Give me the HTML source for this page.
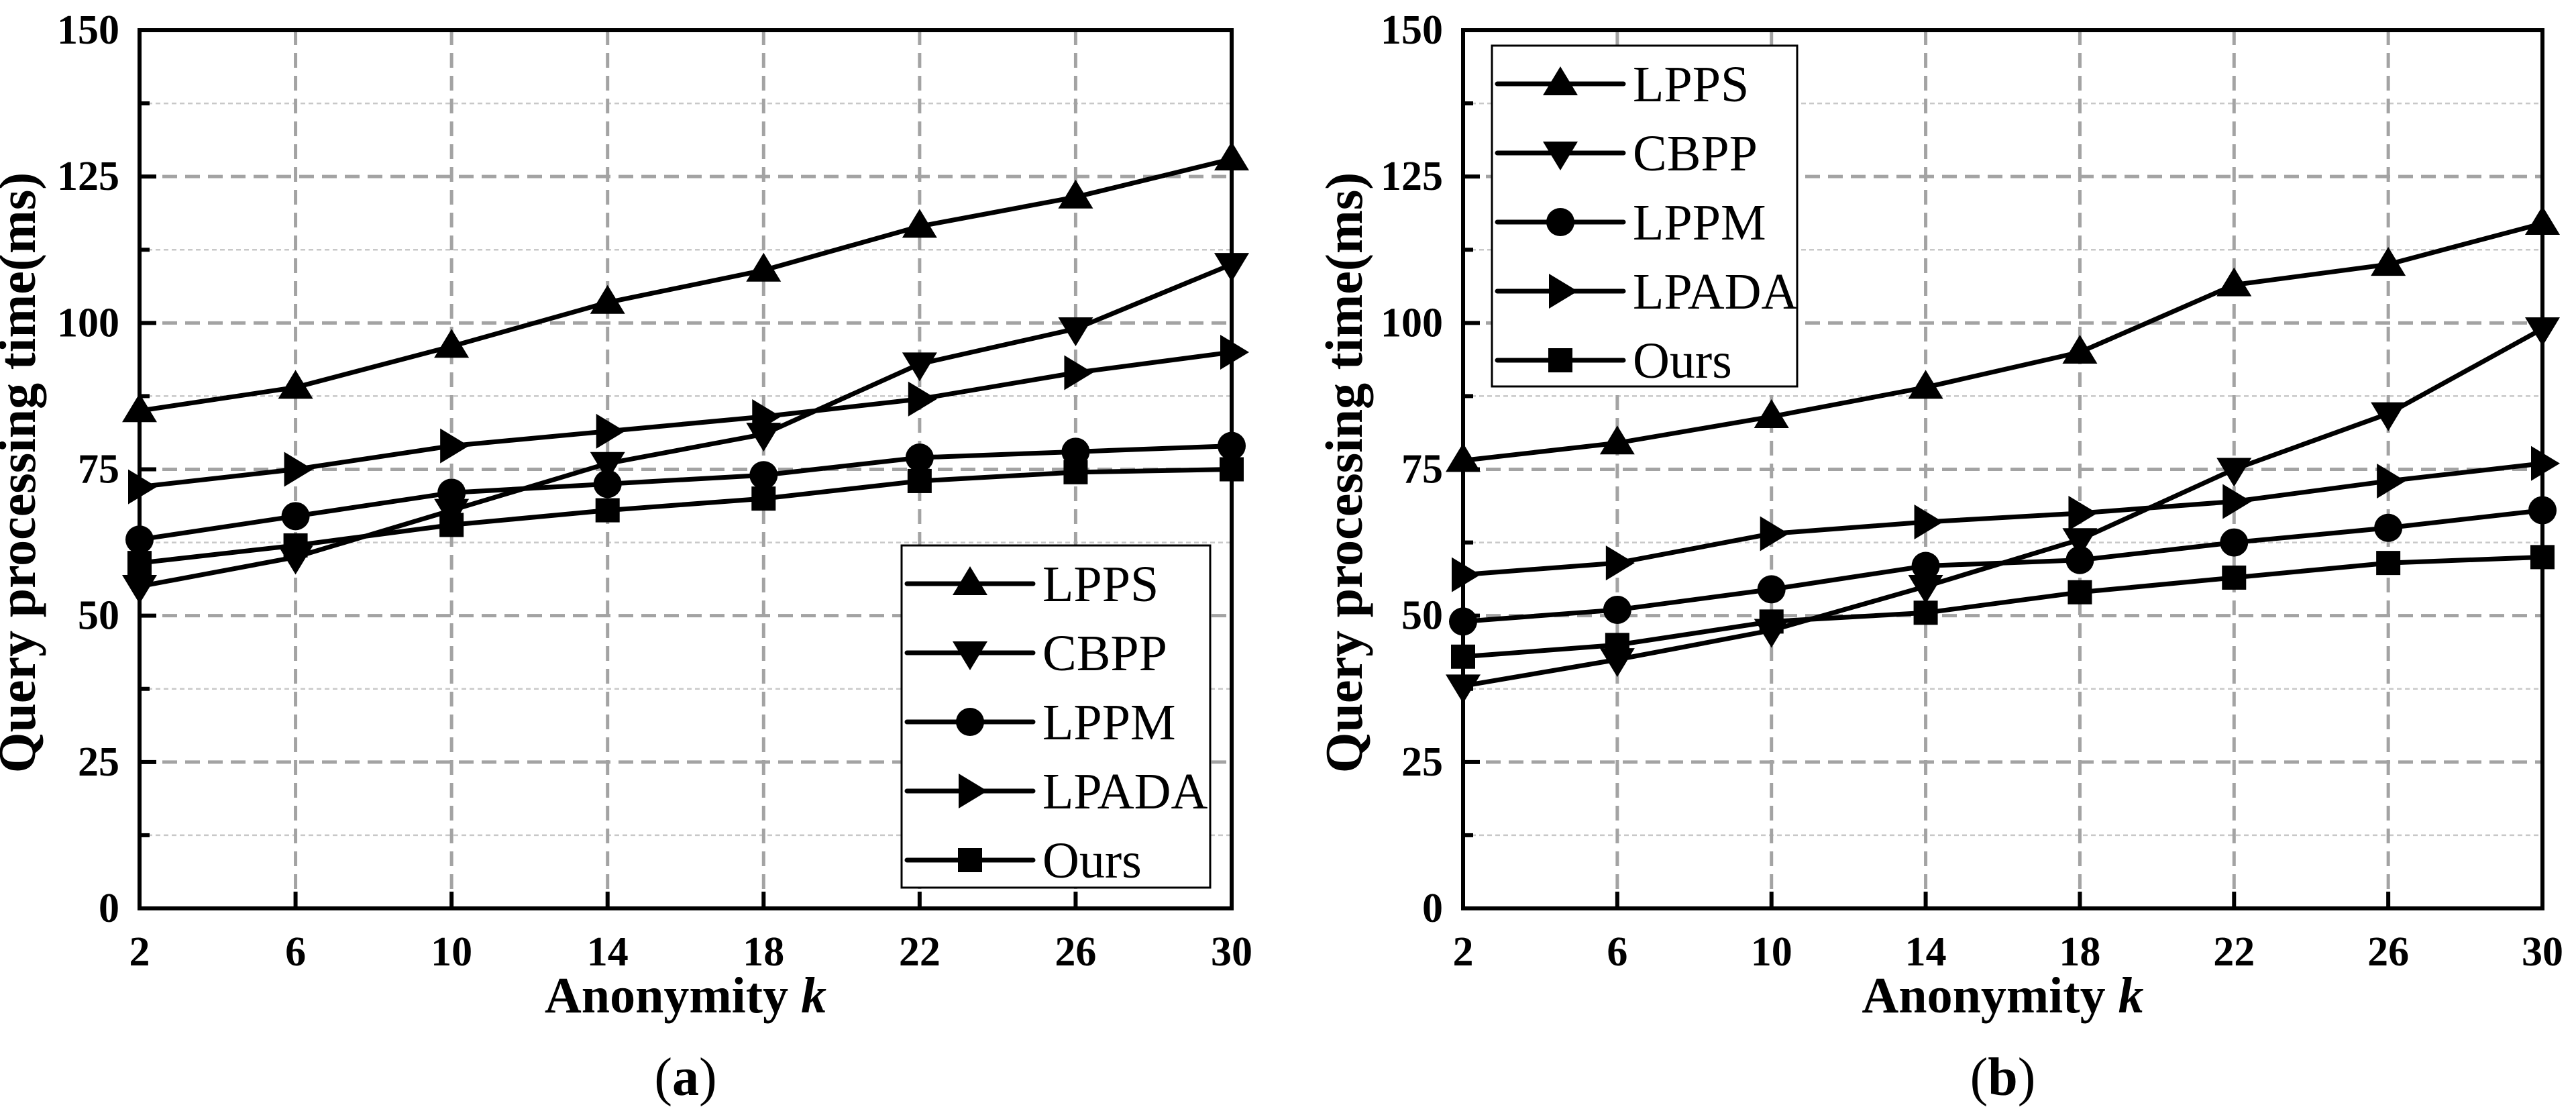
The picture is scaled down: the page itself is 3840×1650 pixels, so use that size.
<!DOCTYPE html>
<html><head><meta charset="utf-8"><style>
html,body{margin:0;padding:0;background:#fff;}
svg{display:block;}
svg text{font-family:"Liberation Serif","DejaVu Serif",serif;fill:#000;}
</style></head><body>
<svg id="fig" width="3840" height="1650" viewBox="0 0 3840 1650" xmlns="http://www.w3.org/2000/svg" font-family="'Liberation Serif', 'DejaVu Serif', serif"></svg>
<script>
const kValues=[2,6,10,14,18,22,26,30];
const yTicks=[0,25,50,75,100,125,150];
const seriesNames=["LPPS","CBPP","LPPM","LPADA","Ours"];
const markerTypes=["up","down","circle","right","square"];
const aLPPS=[85,89,96,103.5,109,116.5,121.5,128];
const aCBPP=[55,60,68,76,81,93,99,110];
const aLPPM=[63,67,71,72.5,74,77,78,79];
const aLPADA=[72,75,79,81.5,84,87,91.5,95];
const aOurs=[59,62,65.5,68,70,73,74.5,75];
const bLPPS=[76.5,79.5,84,89,95,106.5,110,117];
const bCBPP=[38,42.5,47.5,55,63,75,84.5,99];
const bLPPM=[49,51,54.5,58.5,59.5,62.5,65,68];
const bLPADA=[57,59,64,66,67.5,69.5,73,76];
const bOurs=[43,45,49,50.5,54,56.5,59,60];

const NS="http://www.w3.org/2000/svg";
const FONT="'Liberation Serif', 'DejaVu Serif', serif";
const svg=document.getElementById('fig');
function mk(tag,attrs,parent){const e=document.createElementNS(NS,tag);for(const k in attrs)e.setAttribute(k,attrs[k]);if(tag==='text')e.setAttribute('font-family',FONT);(parent||svg).appendChild(e);return e;}

function marker(g,type,cx,cy){
  let e;
  if(type==="up") e=mk('polygon',{points:`${cx},${cy-26} ${cx-26},${cy+17} ${cx+26},${cy+17}`,fill:'#000'},g);
  else if(type==="down") e=mk('polygon',{points:`${cx},${cy+26} ${cx-26},${cy-17} ${cx+26},${cy-17}`,fill:'#000'},g);
  else if(type==="right") e=mk('polygon',{points:`${cx+26},${cy} ${cx-17},${cy-26} ${cx-17},${cy+26}`,fill:'#000'},g);
  else if(type==="circle") e=mk('circle',{cx:cx,cy:cy,r:21,fill:'#000'},g);
  else e=mk('rect',{x:cx-18,y:cy-18,width:36,height:36,fill:'#000'},g);
  return e;
}

function panel(id,L,R,T,B,data,legend,titleX,caption){
  const g=mk('g',{});
  
  
  const xs=k=>L+(k-kValues[0])/(kValues[kValues.length-1]-kValues[0])*(R-L);
  const ys=v=>B-(v-0)/150*(B-T);
  for(let v=12.5;v<150;v+=25){
    const l=mk('line',{x1:L,x2:R,y1:ys(v),y2:ys(v),stroke:'#c8c8c8','stroke-width':2.5,'stroke-dasharray':'7 5'},g);
    
    
  }
  yTicks.forEach(v=>{
    if(v>0&&v<150){
      const l=mk('line',{x1:L,x2:R,y1:ys(v),y2:ys(v),stroke:'#a3a3a3','stroke-width':5,'stroke-dasharray':'22 12'},g);
      
      
    }
  });
  kValues.forEach((k,i)=>{
    if(i>0&&i<kValues.length-1){
      const l=mk('line',{x1:xs(k),x2:xs(k),y1:T,y2:B,stroke:'#a3a3a3','stroke-width':5,'stroke-dasharray':'22 12'},g);
      
      
    }
  });
  data.forEach((vals,si)=>{
    const sg=mk('g',{},g);
    
    
    const pts=vals.map((v,i)=>xs(kValues[i])+','+ys(v)).join(' ');
    const pl=mk('polyline',{points:pts,fill:'none',stroke:'#000','stroke-width':7,'stroke-linejoin':'round'},sg);
    
    
    vals.forEach((v,i)=>{
      const m=marker(sg,markerTypes[si],xs(kValues[i]),ys(v));
      
      
    });
  });
  const box=mk('rect',{x:L,y:T,width:R-L,height:B-T,fill:'none',stroke:'#000','stroke-width':6},g);
  
  
  for(let v=0;v<=150;v+=12.5){
    const len=(v%25===0)?25:15;
    const t=mk('line',{x1:L,x2:L+len,y1:ys(v),y2:ys(v),stroke:'#000','stroke-width':6},g);
    
    
  }
  kValues.forEach(k=>{
    const t=mk('line',{x1:xs(k),x2:xs(k),y1:B,y2:B-25,stroke:'#000','stroke-width':6},g);
    
    
  });
  yTicks.forEach(v=>{
    const t=mk('text',{x:L-30,y:ys(v)+20,'text-anchor':'end','font-size':62,'font-weight':'bold'},g);
    t.textContent=v;
    
    
  });
  kValues.forEach(k=>{
    const t=mk('text',{x:xs(k),y:B+85,'text-anchor':'middle','font-size':62,'font-weight':'bold'},g);
    t.textContent=k;
    
    
  });
  const yt=mk('text',{x:0,y:0,'text-anchor':'middle','font-size':78,'font-weight':'bold',transform:`translate(${titleX},${(T+B)/2+5}) rotate(-90)`},g);
  yt.textContent='Query processing time(ms)';
  
  
  const xt=mk('text',{x:(L+R)/2,y:B+155,'text-anchor':'middle','font-size':76,'font-weight':'bold'},g);
  xt.innerHTML='Anonymity <tspan font-style="italic">k</tspan>';
  
  
  const cp=mk('text',{x:(L+R)/2,y:1632,'text-anchor':'middle','font-size':80},g);
  cp.innerHTML='(<tspan font-weight="bold">'+caption+'</tspan>)';
  
  
  const lg=mk('g',{},g);
  
  
  mk('rect',{x:legend.x,y:legend.y,width:legend.w,height:legend.h,fill:'#fff',stroke:'#000','stroke-width':3},lg);
  seriesNames.forEach((n,i)=>{
    const cy=legend.y+57+i*103;
    const eg=mk('g',{},lg);
    
    
    mk('line',{x1:legend.x+8,x2:legend.x+196,y1:cy,y2:cy,stroke:'#000','stroke-width':7,'stroke-linecap':'round'},eg);
    marker(eg,markerTypes[i],legend.x+102,cy);
    const t=mk('text',{x:legend.x+210,y:cy+26,'font-size':76},eg);
    t.textContent=n;
  });
}
panel('a',208,1836,45,1354,[aLPPS,aCBPP,aLPPM,aLPADA,aOurs],{x:1344,y:813,w:460,h:510},52,'a');
panel('b',2181,3790,45,1354,[bLPPS,bCBPP,bLPPM,bLPADA,bOurs],{x:2224,y:68,w:455,h:508},2030,'b');
</script>
</body></html>
